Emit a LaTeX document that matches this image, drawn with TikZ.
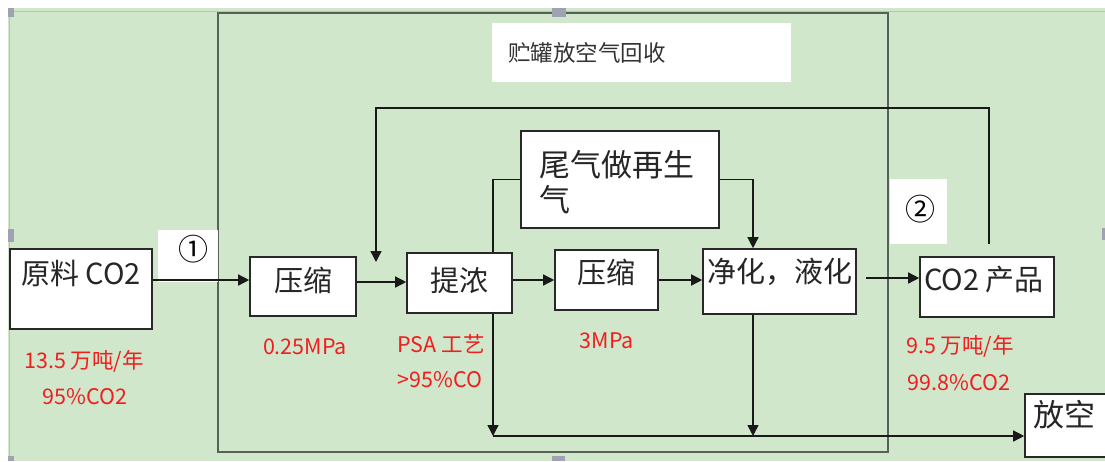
\documentclass[tikz,border=0pt]{standalone}
\usepackage{fontspec}
\newfontfamily\cjk{Noto Sans CJK SC}
\usepackage{tikz}
\usetikzlibrary{arrows.meta}
\definecolor{bggreen}{RGB}{208,231,204}
\definecolor{framegray}{RGB}{85,98,85}
\definecolor{boxline}{RGB}{40,40,40}
\definecolor{redtxt}{RGB}{240,30,30}
\definecolor{handlegray}{RGB}{160,162,178}
\tikzset{
  box/.style={shape=rectangle, draw=boxline, fill=white, line width=1.6pt},
  boxtext/.style={font=\cjk\fontsize{29}{31}\selectfont, text=black!85, inner sep=0pt},
  note/.style={font=\cjk\fontsize{21.5}{23}\selectfont, text=redtxt, inner sep=0pt},
  wire/.style={draw=black!90, line width=1.4pt},
  flow/.style={wire, -{Triangle[length=11pt,width=11pt]}},
}

\begin{document}
\begin{tikzpicture}[x=1pt, y=-1pt]
    		\useasboundingbox (0,0) rectangle (1105,461);
    		% Background, frame and handles:
    		\fill[white] (0,0) rectangle (1105,461);
    		\fill[bggreen] (8,8) rectangle (1105,461);
    		\draw[black!25, line width=1pt] (9,461) -- (9,11) -- (1105,11);
    		\draw[framegray, line width=1.6pt] (218,13) rectangle (888,452);
    		\foreach \hx/\hy/\hw/\hh in {8/8/6/9, 552/8/14/9, 8/229/6/13, 8/456/6/5, 552/456/13/5, 1102/228/3/12}
    			\fill[handlegray] (\hx,\hy) rectangle ++(\hw,\hh);
    		% Label fields:
    		\node[fill=white, minimum width=299pt, minimum height=59pt, inner sep=0pt](L0) at (641.5,52.5){} node[anchor=west, font=\cjk\fontsize{22.5}{24}\selectfont, text=black!80, inner sep=0pt](T0) at (508,53){贮罐放空气回收};
    		\node[fill=white, minimum width=60pt, minimum height=52pt, inner sep=0pt](L1) at (188,256){} node[font=\cjk\fontsize{30}{32}\selectfont, inner sep=0pt](T1) at (193,249){①};
    		\node[fill=white, minimum width=57pt, minimum height=65pt, inner sep=0pt](L2) at (918.5,211.5){} node[font=\cjk\fontsize{30}{32}\selectfont, inner sep=0pt](T2) at (920,209){②};
    		% Boxes:
    		\node[box, minimum width=142pt, minimum height=80pt](N1) at (81,289){} node[boxtext](T3) at (81,273){原料 CO2};
    		\node[box, minimum width=106pt, minimum height=59pt](N2) at (303,286.5){} node[boxtext](T4) at (303,280){压缩};
    		\node[box, minimum width=105pt, minimum height=60pt](N3) at (459.5,283){} node[boxtext](T5) at (459.5,280){提浓};
    		\node[box, minimum width=198pt, minimum height=97pt](N4) at (620,179.5){} node[boxtext, font=\cjk\fontsize{31}{33}\selectfont, anchor=west](T6) at (539,165){尾气做再生} node[boxtext, font=\cjk\fontsize{31}{33}\selectfont, anchor=west](T7) at (539,200){气};
    		\node[box, minimum width=103pt, minimum height=60pt](N5) at (606.5,280){} node[boxtext](T8) at (606.5,272){压缩};
    		\node[box, minimum width=153pt, minimum height=65pt](N6) at (779.5,281.5){} node[boxtext](T9) at (780,272){净化，液化};
    		\node[box, minimum width=134pt, minimum height=60pt](N7) at (987,287){} node[boxtext](T10) at (984,280){CO2 产品};
    		\node[box, minimum width=95pt, minimum height=63pt](N8) at (1072.5,425.5){} node[boxtext, font=\cjk\fontsize{31}{33}\selectfont](T11) at (1064,415){放空};
    		% Red notes:
    		\node[note](R1) at (84,361){13.5 万吨/年};
    		\node[note](R2) at (85,397){95\%CO2};
    		\node[note](R3) at (305,347){0.25MPa};
    		\node[note](R4) at (441,344){PSA 工艺};
    		\node[note](R5) at (440,380){>95\%CO};
    		\node[note](R6) at (607,341){3MPa};
    		\node[note](R7) at (960,346){9.5 万吨/年};
    		\node[note](R8) at (959,383){99.8\%CO2};
    		% Wires:
    		\coordinate (row) at (0,280);
    		\coordinate (top) at (0,108);
    		\coordinate (feed) at (376,262);
    		\coordinate (ret) at (989,244);
    		\coordinate (drain) at (493,436);
    		\draw[flow] (N1.east |- row) -- (N2.west |- row);
    		\draw[flow] ([yshift=4.5pt]N2.east) -- ([yshift=4.5pt]N2.east -| N3.west);
    		\draw[flow] ([yshift=3pt]N3.east) -- ([yshift=3pt]N3.east -| N5.west);
    		\draw[flow] (N5.east) -- (N5.east -| N6.west);
    		\draw[flow, shorten <=9pt] ([yshift=3.5pt]N6.east) -- ([yshift=3.5pt]N6.east -| N7.west);
    		\draw[flow] (ret) |- (feed |- top) -- (feed);
    		\draw[wire] ([xshift=33.5pt]N3.north) |- (N4.west);
    		\draw[flow] (N4.east) -| ([xshift=-26.5pt]N6.north);
    		\draw[flow] ([xshift=33.5pt]N3.south) -- (drain);
    		\draw[flow] ([xshift=-26.5pt]N6.south) -- ([xshift=-26.5pt]N6.south |- drain);
    		\draw[flow] (drain) -- (drain -| N8.west);
\end{tikzpicture}
\end{document}
